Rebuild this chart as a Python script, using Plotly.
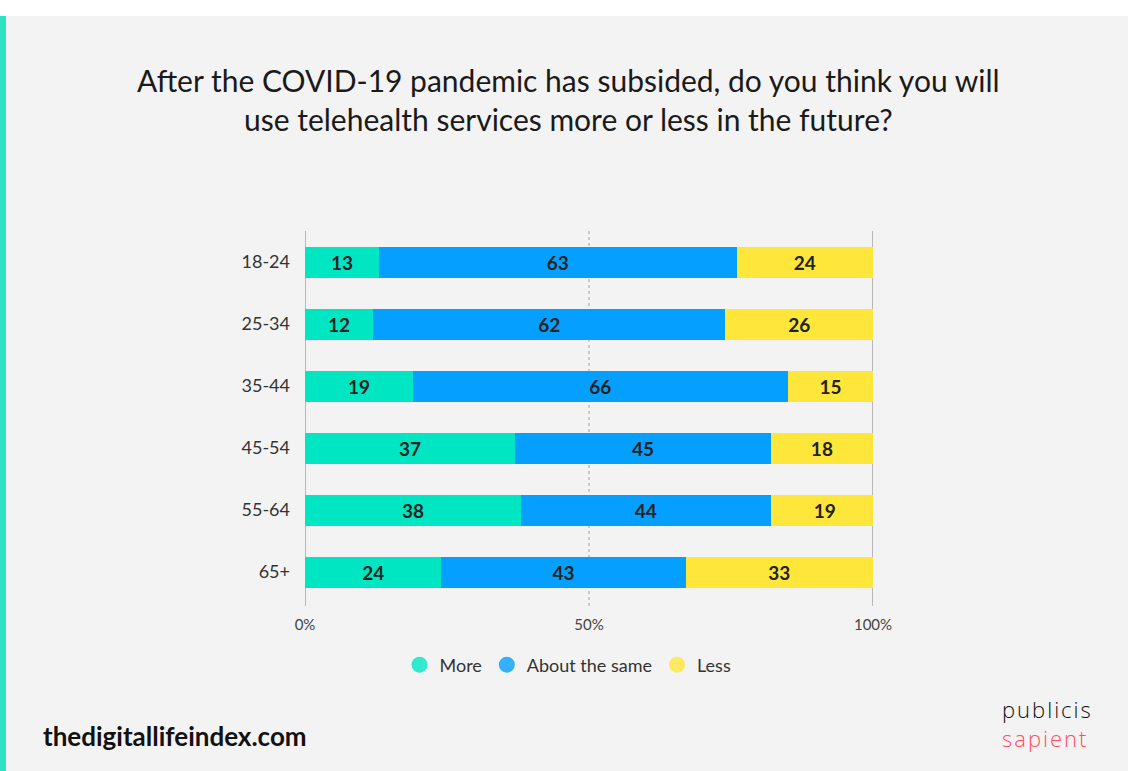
import plotly.graph_objects as go

# Survey responses by age group (percent)
age_groups = ["18-24", "25-34", "35-44", "45-54", "55-64", "65+"]
more = [13, 12, 19, 37, 38, 24]
about_same = [63, 62, 66, 45, 44, 43]
less = [24, 26, 15, 18, 19, 33]

series_names = ["More", "About the same", "Less"]
series_colors = ["#00E6C3", "#049FFF", "#FFE63B"]
tick_vals = [0, 50, 100]
tick_text = ["0%", "50%", "100%"]

W, H = 1128, 771
FONT = "Lato"

fig = go.Figure()

for name, vals, col in zip(series_names, [more, about_same, less], series_colors):
    fig.add_trace(go.Bar(
        y=age_groups, x=vals, name=name, orientation="h",
        marker=dict(color=col, line=dict(width=0)),
        text=[str(v) for v in vals], textposition="inside",
        insidetextanchor="middle",
        textfont=dict(family=FONT, size=19, color="#222222", weight="bold"),
        showlegend=False, cliponaxis=True,
    ))
    # round legend markers
    fig.add_trace(go.Scatter(
        x=[None], y=[None], mode="markers", name=name,
        marker=dict(symbol="circle", size=22, color=col, opacity=0.8),
        showlegend=True,
    ))

x0, x1 = 305 / W, 873 / W
y_top, y_bot = 231, 603

shapes = [
    # white strip along the top
    dict(type="rect", xref="paper", yref="paper", x0=0, x1=1,
         y0=1 - 16 / H, y1=1, fillcolor="white", line=dict(width=0), layer="below"),
    # teal accent on the left edge
    dict(type="rect", xref="paper", yref="paper", x0=0, x1=6 / W,
         y0=0, y1=1 - 16 / H, fillcolor="#2DE3C4", line=dict(width=0), layer="below"),
    # reference lines at 0%, 50%, 100%
    dict(type="line", xref="x", yref="paper", x0=0, x1=0,
         y0=1 - 606 / H, y1=1 - 231 / H, line=dict(color="#B8B8B8", width=2), layer="below"),
    dict(type="line", xref="x", yref="paper", x0=100, x1=100,
         y0=1 - 606 / H, y1=1 - 231 / H, line=dict(color="#B8B8B8", width=2), layer="below"),
    dict(type="line", xref="x", yref="paper", x0=50, x1=50,
         y0=1 - 606 / H, y1=1 - 231 / H, line=dict(color="#BDBDBD", width=1.5, dash="dot"), layer="below"),
]

annotations = [
    dict(text="After the COVID-19 pandemic has subsided, do you think you will<br>use telehealth services more or less in the future?",
         xref="paper", yref="paper", x=568 / W, y=1 - 100 / H, xanchor="center", yanchor="middle",
         showarrow=False, align="center",
         font=dict(family=FONT, size=30, color="#1a1a1a")),
    dict(text="<b>thedigitallifeindex.com</b>", xref="paper", yref="paper",
         x=41 / W, y=1 - 736 / H, xanchor="left", yanchor="middle", showarrow=False,
         font=dict(family=FONT, size=26, color="#111111")),
    dict(text="<span style='letter-spacing:2px'>publicis</span><br>"
              "<span style='color:#FF4F5E;letter-spacing:2px'>sapient</span>",
         xref="paper", yref="paper",
         x=1095 / W, y=1 - 723 / H, xanchor="right", yanchor="middle", showarrow=False,
         align="left",
         font=dict(family="Open Sans", size=22, color="#111111", weight=300)),
]

fig.update_layout(
    width=W, height=H, autosize=False, barmode="stack", bargap=0.5,
    paper_bgcolor="#F3F3F3", plot_bgcolor="rgba(0,0,0,0)",
    margin=dict(l=0, r=0, t=0, b=0, pad=0, autoexpand=False),
    shapes=shapes, annotations=annotations,
    xaxis=dict(domain=[x0, x1], range=[0, 100], tickvals=tick_vals, ticktext=tick_text,
               showgrid=False, zeroline=False, showline=False, fixedrange=True,
               automargin=False,
               tickfont=dict(family=FONT, size=15, color="#444444"),
               ticks="", anchor="free", position=1 - 614 / H),
    yaxis=dict(domain=[1 - y_bot / H, 1 - y_top / H], categoryorder="array",
               categoryarray=age_groups, autorange="reversed", automargin=False,
               showgrid=False, zeroline=False, showline=False, ticks="",
               ticklabelstandoff=14,
               tickfont=dict(family=FONT, size=18, color="#333333")),
    legend=dict(orientation="h", x=568 / W, y=1 - 665 / H, xanchor="center", yanchor="middle",
                font=dict(family=FONT, size=18, color="#333333"),
                bgcolor="rgba(0,0,0,0)", itemwidth=30, traceorder="normal"),
    showlegend=True,
)

fig.write_html(
    "out.html",
    config={"responsive": False},
    post_script="document.body.style.margin='0px';document.body.style.overflow='hidden';",
)
